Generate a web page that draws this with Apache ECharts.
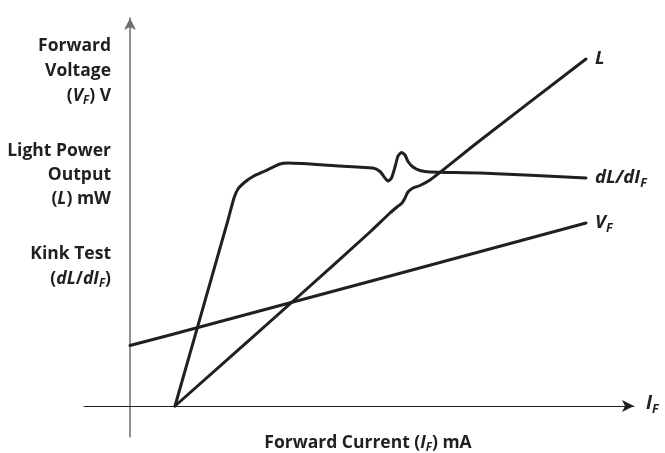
<!DOCTYPE html>
<html>
<head>
<meta charset="utf-8">
<script src="https://cdn.jsdelivr.net/npm/echarts@6/dist/echarts.min.js"></script>
<style>
html,body{margin:0;padding:0;background:#fff;}
#chart{width:665px;height:453px;}
</style>
</head>
<body>
<div id="chart"></div>
<script>
// Forward current (arbitrary units, no ticks on the original)
var lCurrent = [4.5, 17, 24, 26, 26.7, 27.2, 27.5, 27.8, 28.3, 29, 30, 31.3, 35, 45.6];
var lPower   = [0, 11.1, 17.4, 19.3, 19.9, 20.3, 20.8, 21.4, 21.8, 22.05, 22.6, 23.6, 26.55, 34.7];

var kinkCurrent = [4.5, 9.8, 10.4, 10.8, 11.5, 12.3, 13.5, 15, 15.8, 21, 24.3, 25, 25.5, 25.8, 26.15, 26.5, 26.8, 27.15, 27.5, 27.8, 28.3, 29, 30, 35, 45.6];
var kinkValues  = [0, 18.6, 20.8, 21.7, 22.4, 22.95, 23.5, 24.2, 24.3, 24, 23.8, 23.45, 22.8, 22.5, 22.8, 23.9, 25, 25.35, 25.1, 24.45, 23.9, 23.55, 23.4, 23.3, 22.8];

var vfCurrent = [0, 4, 26, 45.6];
var vfVoltage = [6.05, 7.1, 13.0, 18.3];

var yLabelLines = [
  ['Forward', 46], ['Voltage', 71], ['({i|V}{s|F}) V', 96],
  ['Light Power', 151], ['Output', 175], ['({i|L}) mW', 199],
  ['Kink Test', 254], ['({i|dL}/{i|dI}{s|F})', 279]
];
var xLabelText = 'Forward Current ({i|I}{s|F}) mA';

function zip(a, b) { return a.map(function (v, i) { return [v, b[i]]; }); }

var FONT = 'Open Sans';
var INK = '#231f20';
var FS = 17.5;
var richBase = {
  i: { fontFamily: FONT, fontWeight: 'bold', fontStyle: 'italic', fontSize: FS, color: INK },
  s: { fontFamily: FONT, fontWeight: 'bold', fontStyle: 'italic', fontSize: 11.5, color: INK, padding: [10, 0, 0, 0] }
};

var graphics = yLabelLines.map(function (l) {
  return {
    type: 'text', x: 111, y: l[1],
    style: {
      text: l[0], align: 'right', verticalAlign: 'middle',
      fontFamily: FONT, fontWeight: 'bold', fontSize: FS, fill: INK,
      rich: richBase
    }
  };
});
graphics.push({
  type: 'text', x: 368, y: 443,
  style: { text: xLabelText, align: 'center', verticalAlign: 'middle',
    fontFamily: FONT, fontWeight: 'bold', fontSize: FS, fill: INK, rich: richBase }
});
graphics.push({
  type: 'text', x: 646, y: 404,
  style: { text: '{i|I}{s|F}', align: 'left', verticalAlign: 'middle',
    fontFamily: FONT, fontWeight: 'bold', fontSize: FS, fill: INK,
    rich: {
      i: { fontFamily: FONT, fontWeight: 'bold', fontStyle: 'italic', fontSize: 19, color: INK },
      s: { fontFamily: FONT, fontWeight: 'bold', fontStyle: 'italic', fontSize: 12.5, color: INK, padding: [11, 0, 0, 0] }
    } }
});

function endLabel(fmt) {
  return {
    show: true, distance: 9, formatter: fmt,
    rich: {
      i: { fontFamily: FONT, fontWeight: 'bold', fontStyle: 'italic', fontSize: 18.5, color: INK },
      s: { fontFamily: FONT, fontWeight: 'bold', fontStyle: 'italic', fontSize: 12.5, color: INK, padding: [11, 0, 0, 0] }
    }
  };
}

var lineStyle = { color: INK, width: 3, cap: 'round', join: 'round' };

var chart = echarts.init(document.getElementById('chart'));
chart.setOption({
  animation: false,
  backgroundColor: '#fff',
  grid: { left: 84, right: 31, top: 18, bottom: 16 },
  xAxis: {
    type: 'value', min: -4.6, max: 50.4,
    axisLine: { onZero: true, symbol: ['none', 'arrow'], symbolSize: [9, 12], lineStyle: { color: INK, width: 1 } },
    axisTick: { show: false }, axisLabel: { show: false }, splitLine: { show: false }
  },
  yAxis: {
    type: 'value', min: -3.1, max: 38.8,
    axisLine: { onZero: true, symbol: ['none', 'arrow'], symbolSize: [9, 12], lineStyle: { color: '#6d6e71', width: 1.5 } },
    axisTick: { show: false }, axisLabel: { show: false }, splitLine: { show: false }
  },
  graphic: graphics,
  series: [
    { type: 'line', name: 'L', data: zip(lCurrent, lPower), smooth: 0.3, showSymbol: false,
      lineStyle: lineStyle, endLabel: endLabel('{i|L}') },
    { type: 'line', name: 'dL/dIF', data: zip(kinkCurrent, kinkValues), smooth: 0.2, showSymbol: false,
      lineStyle: lineStyle, endLabel: endLabel('{i|dL/dI}{s|F}') },
    { type: 'line', name: 'VF', data: zip(vfCurrent, vfVoltage), showSymbol: false,
      lineStyle: lineStyle, endLabel: endLabel('{i|V}{s|F}') }
  ]
});
</script>
</body>
</html>
